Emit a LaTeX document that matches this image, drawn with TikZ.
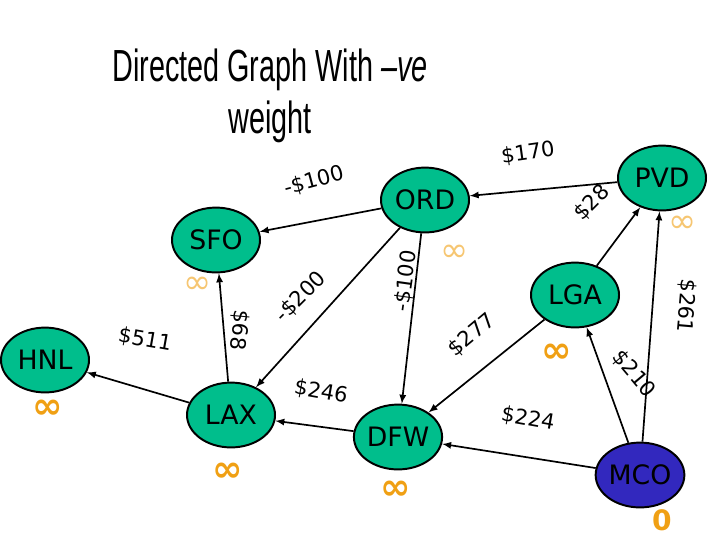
\documentclass[tikz,border=0pt]{standalone}
\usepackage{fontspec}
\setmainfont{DejaVu Sans}
\newfontfamily\titlefont{Liberation Sans}
\usetikzlibrary{shapes.geometric, arrows, positioning}

\definecolor{citygreen}{RGB}{0,190,140}
\definecolor{cityblue}{RGB}{50,40,190}
\definecolor{distorange}{RGB}{240,160,20}

\begin{document}
\begin{tikzpicture}[
    x=0.025cm, y=-0.025cm,
    city/.style={ellipse, draw, line width=1.4pt, fill=citygreen, minimum width=2.2cm, minimum height=1.62cm, inner sep=0pt, font=\fontsize{19}{19}\selectfont},
    flight/.style={-latex, line width=1.2pt},
    cost/.style={font=\fontsize{15}{15}\selectfont},
    dist/.style={text=distorange, font=\bfseries\fontsize{26}{26}\selectfont},
    faint/.style={text=distorange!60, font=\fontsize{24}{24}\selectfont}
]
\useasboundingbox (0,0) rectangle (720,540);

% Title
\node[font=\titlefont\fontsize{32}{37}\selectfont, align=center] (title) at (270,96) {\scalebox{0.64}[1]{Directed Graph With \textit{–ve}}\\\scalebox{0.64}[1]{weight}};

% Cities
\node[city] (sfo) at (216,240) {SFO};
\node[city] (ord) at (425,200) {ORD};
\node[city] (pvd) at (662,178) {PVD};
\node[city] (lga) at (575,295) {LGA};
\node[city] (hnl) at (45,360) {HNL};
\node[city] (lax) at (231,415) {LAX};
\node[city] (dfw) at (398,437) {DFW};
\node[city, fill=cityblue] (mco) at (640,475) {MCO};

% Distances
\node[faint] (dsfo) at (198,285) {∞};
\node[faint] (dord) at (455,253) {∞};
\node[faint] (dpvd) at (683,224) {∞};
\node[dist] (dlga) at (557,353) {∞};
\node[dist] (dhnl) at (48,409) {∞};
\node[dist] (dlax) at (228,472) {∞};
\node[dist] (ddfw) at (396,490) {∞};
\node[dist, font=\bfseries\fontsize{20}{20}\selectfont] (dmco) at (662,520) {0};

% Flights
\draw[flight] (ord) -- (sfo);
\draw[flight] (pvd) -- (ord);
\draw[flight] (lga) -- (pvd);
\draw[flight] (ord) -- (dfw);
\draw[flight] (ord) -- (lax);
\draw[flight] (lax) -- (sfo);
\draw[flight] (lax) -- (hnl);
\draw[flight] (dfw) -- (lax);
\draw[flight] (lga) -- (dfw);
\draw[flight] (mco) -- (dfw);
\draw[flight] (mco) -- (lga);
\draw[flight] (mco) -- (pvd);

% Costs
\node[cost, rotate=15] (c1) at (314,181) {-\$100};
\node[cost, rotate=8] (c2) at (528,153) {\$170};
\node[cost, rotate=45] (c3) at (592,203) {\$28};
\node[cost, rotate=82] (c4) at (406,281) {-\$100};
\node[cost, rotate=45] (c5) at (301,297) {-\$200};
\node[cost, rotate=-95] (c6) at (239,330) {\$68};
\node[cost, rotate=-10] (c7) at (145,340) {\$511};
\node[cost, rotate=-10] (c8) at (321,392) {\$246};
\node[cost, rotate=40] (c9) at (472,335) {\$277};
\node[cost, rotate=-10] (c10) at (528,419) {\$224};
\node[cost, rotate=-50] (c11) at (634,374) {\$210};
\node[cost, rotate=-95] (c12) at (686,306) {\$261};

\end{tikzpicture}
\end{document}
